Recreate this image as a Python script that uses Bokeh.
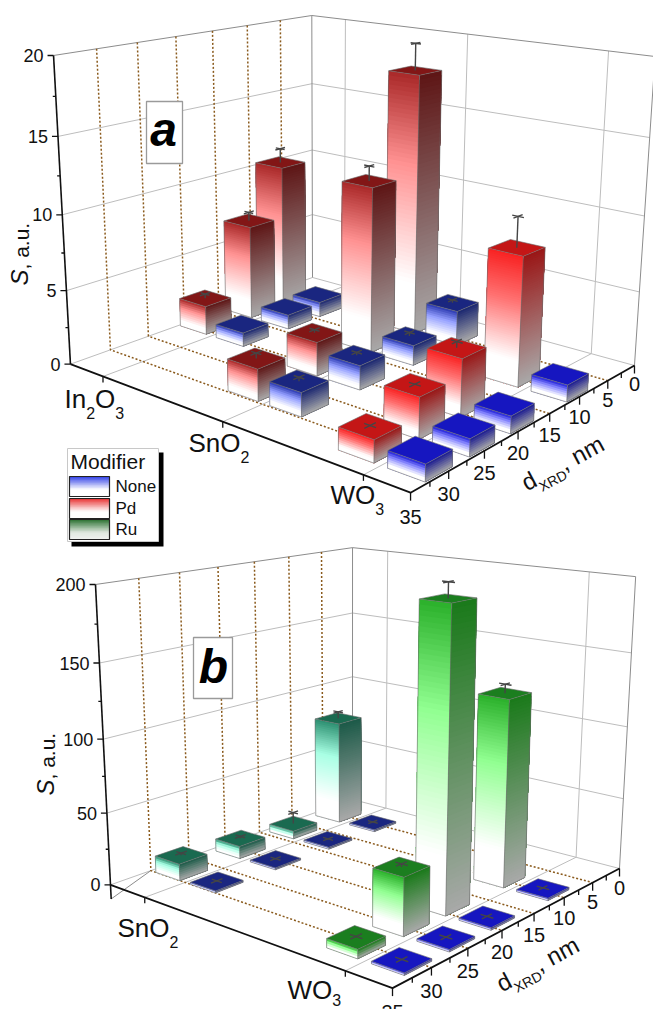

import math
import numpy as np
from bokeh.plotting import figure
from bokeh.embed import file_html
from bokeh.resources import INLINE
from bokeh.core.properties import value

# ---------- data ----------
a_in_d = [19.0, 12.4, 7.5]
a_in_pd = [2.0, 6.6, 10.2]
a_in_pd_err = [0.3, 0.6, 1.0]
a_in_none = [0.95, 1.0, 1.05]
a_in_none_err = [0, 0, 0]

a_sn_d = [28.0, 20.0, 12.0, 5.0]
a_sn_pd = [2.1, 2.25, 11.2, 17.8]
a_sn_pd_err = [0.35, 0.2, 1.0, 1.8]
a_sn_none = [1.55, 1.6, 1.35, 2.4]
a_sn_none_err = [0.25, 0.2, 0.25, 0.2]

a_w_d = [31.0, 25.0, 19.0, 10.0]
a_w_pd = [1.4, 2.6, 3.7, 8.5]
a_w_pd_err = [0.05, 0.05, 0.4, 2.0]
a_w_none = [1.05, 1.1, 1.1, 1.1]
a_w_none_err = [0, 0, 0, 0]

b_sn_d = [28.2, 20.2, 12.4, 5.2]
b_sn_ru = [11.7, 9.0, 5.9, 76.5]
b_sn_ru_err = [1.5, 1.3, 8.5, 5.0]
b_sn_none = [1.4, 1.4, 1.4, 1.4]
b_sn_none_err = [0.3, 0.3, 0.3, 0.3]

b_w_d = [30.8, 24.8, 18.8, 9.8]
b_w_ru = [6.0, 38.0, 196.7, 127.3]
b_w_ru_err = [0.5, 2.0, 10.0, 6.0]
b_w_none = [1.6, 1.6, 1.6, 1.6]
b_w_none_err = [0.3, 0.3, 0.3, 0.3]

a_materials = [("In", "2", "O", "3"), ("Sn", "", "O", "2"), ("W", "", "O", "3")]
s_ticks_a = [0, 5, 10, 15, 20]
s_ticks_b = [0, 50, 100, 150, 200]
d_ticks = [0, 5, 10, 15, 20, 25, 30, 35]
legend_names = ["None", "Pd", "Ru"]

# (left-face top, left-face middle, top face, right-face top)
PAL = {
    "pd_dark": ("#a92828", "#ff9292", "#821616", "#5e1515"),
    "pd_bright": ("#f82222", "#ff7070", "#c41616", "#9a1616"),
    "none_dark": ("#2a38b0", "#95a0ff", "#1a2680", "#1a2670"),
    "none_bright": ("#1f1fd8", "#8a8aff", "#1616c0", "#1a1a90"),
    "ru_teal": ("#2c8f70", "#a8ffe4", "#1a6a50", "#1c5a48"),
    "ru_green": ("#2ab02a", "#92ff92", "#1b7e1f", "#1a7a1a"),
}

FONT = value("Liberation Sans")
GRID = "#bdbdbd"
EDGE = "#8c8c8c"
DOT = "#8a5a1c"
K_BASE = 0.4


def fit(pts):
    rows = []
    for (m, d, s, u, v) in pts:
        X = [m, d, s, 1.0]
        rows.append([*X, 0, 0, 0, 0, *[-u * x for x in X]])
        rows.append([0, 0, 0, 0, *X, *[-v * x for x in X]])
    A = np.array(rows)
    _, _, vt = np.linalg.svd(A / np.abs(A).max(axis=1, keepdims=True))
    return vt[-1].reshape(3, 4)


def rgb(c):
    return np.array([int(c[i:i + 2], 16) for i in (1, 3, 5)], float)


def ramp(stops, t):
    for (t0, c0), (t1, c1) in zip(stops, stops[1:]):
        if t <= t1:
            f = (t - t0) / (t1 - t0) if t1 > t0 else 0
            v = rgb(c0) + (rgb(c1) - rgb(c0)) * f
            return "#%02x%02x%02x" % tuple(int(round(x)) for x in v)
    return stops[-1][1]


p = figure(width=653, height=1009, x_range=(0, 653), y_range=(1009, 0),
           output_backend="svg", toolbar_location=None, min_border=0)
p.axis.visible = False
p.grid.visible = False
p.outline_line_color = None


def seg(pts_list, color, width=1.0, dash="solid"):
    p.multi_line([[q[0] for q in s] for s in pts_list], [[q[1] for q in s] for s in pts_list],
                 line_color=color, line_width=width, line_dash=dash)


def txt(x, y, s, size, align="left", base="alphabetic", angle=0.0, style="normal", color="#111111"):
    if base == "alphabetic":
        x -= K_BASE * size * math.sin(angle)
        y -= K_BASE * size * math.cos(angle)
    p.text([x], [y], text=[s], text_font=FONT, text_font_size=f"{size}px", text_align=align,
           text_baseline=base, angle=angle, text_font_style=style, text_color=color)


def draw_frame(P, m0, m1, smax, s_ticks, m_ticks, s_low=None):
    def pr(m, d, s):
        h = P @ np.array([m, d, s, 1.0])
        return (h[0] / h[2], h[1] / h[2])

    lines = []
    for s in s_ticks[1:-1]:
        lines.append([pr(m0, 35, s), pr(m0, 0, s), pr(m1, 0, s)])
    for m in m_ticks:
        lines.append([pr(m, 35, 0), pr(m, 0, 0), pr(m, 0, smax)])
    lines.append([pr(m0, 35, 0), pr(m0, 0, 0), pr(m1, 0, 0)])
    seg(lines, GRID, 1.0)
    seg([[pr(m0, 35, smax), pr(m0, 0, smax), pr(m1, 0, smax), pr(m1, 0, 0)],
         [pr(m0, 0, 0), pr(m0, 0, smax)]], EDGE, 1.0)
    if s_low is not None:
        seg([[pr(m0, 35, s_low), pr(m0, 30, 0)]], EDGE, 1.0)
    dots = []
    for d in d_ticks[1:-1]:
        dots.append([pr(m0, d, smax), pr(m0, d, 0), pr(m1, d, 0)])
    seg(dots, DOT, 1.5, "2 2")
    return pr


def draw_axes(pr, m0, m1, smax, s_ticks, m_ticks, s_low=None):
    low = 0 if s_low is None else s_low
    seg([[pr(m0, 35, low), pr(m0, 35, smax)]], "#111111", 1.6)
    seg([[pr(m0, 35, 0), pr(m1, 35, 0), pr(m1, 0, 0)]], "#111111", 1.8)
    tk = []
    step = s_ticks[1]
    for s in s_ticks:
        x, y = pr(m0, 35, s)
        tk.append([(x - 6, y), (x, y)])
        if s < smax:
            x2, y2 = pr(m0, 35, s + step / 2)
            tk.append([(x2 - 3, y2), (x2, y2)])
        txt(x - 10, y, str(s), 18, "right", "middle")
    for m in m_ticks:
        x, y = pr(m, 35, 0)
        tk.append([(x, y), (x, y + 6)])
    for d in d_ticks:
        x, y = pr(m1, d, 0)
        tk.append([(x, y), (x, y + 8)])
        if d < 35:
            x2, y2 = pr(m1, d + 2.5, 0)
            tk.append([(x2, y2), (x2, y2 + 5)])
        txt(x, y + 19 + d * 5 / 35, str(d), 20, "center", "middle")
    seg(tk, "#111111", 1.3)


def draw_bars(pr, bars, w_m, w_d, cap_m, cap_d):
    for (m, d, s, err, key) in sorted(bars, key=lambda b: (b[1], b[0])):
        lt, mid, tf, rt = PAL[key]
        a0, a1 = m - w_m / 2, m + w_m / 2
        d0, d1 = d - w_d / 2, d + w_d / 2
        px = abs(pr(m, d, 0)[1] - pr(m, d, s)[1])
        n = max(3, min(60, int(px / 2)))
        left = [(0, "#ffffff"), (0.2, "#ffffff"), (0.66, mid), (1, lt)]
        right = [(0, "#a9a9a9"), (1, rt)]
        xs, ys, cs = [], [], []
        # each slice reaches from the floor up, tallest first, so no seams show
        for i in reversed(range(n)):
            s1 = s * (i + 1) / n
            t = (i + 0.5) / n
            q = [pr(a0, d1, 0), pr(a1, d1, 0), pr(a1, d1, s1), pr(a0, d1, s1)]
            xs.append([c[0] for c in q]); ys.append([c[1] for c in q]); cs.append(ramp(left, t))
            q = [pr(a1, d1, 0), pr(a1, d0, 0), pr(a1, d0, s1), pr(a1, d1, s1)]
            xs.append([c[0] for c in q]); ys.append([c[1] for c in q]); cs.append(ramp(right, t))
        q = [pr(a0, d1, s), pr(a1, d1, s), pr(a1, d0, s), pr(a0, d0, s)]
        xs.append([c[0] for c in q]); ys.append([c[1] for c in q]); cs.append(tf)
        p.patches(xs, ys, fill_color=cs, line_color=None)
        seg([[pr(a0, d1, s), pr(a0, d1, 0), pr(a1, d1, 0), pr(a1, d0, 0), pr(a1, d0, s)],
             [pr(a0, d1, s), pr(a1, d1, s), pr(a1, d0, s), pr(a0, d0, s), pr(a0, d1, s)],
             [pr(a1, d1, s), pr(a1, d1, 0)]], "#6a6a6a", 0.6)
        if err > 0:
            e = s + err
            seg([[pr(m, d, s), pr(m, d, e)],
                 [pr(m - cap_m, d, e), pr(m + cap_m, d, e)],
                 [pr(m, d - cap_d, e), pr(m, d + cap_d, e)]], "#454545", 1.4)


def rich(x, y, angle, parts):
    ca, sa = math.cos(angle), math.sin(angle)
    along = 0.0
    for t, size, drop, w, style in parts:
        txt(x + along * ca + drop * sa, y - along * sa + drop * ca, t, size, angle=angle, style=style)
        along += w * size


EM = {"In": 0.834, "Sn": 1.223, "W": 0.944, "O": 0.778, "2": 0.556, "3": 0.556}


def oxide(x, y, mat, drop=10):
    a, b, c, e = mat
    parts = [(a, 26, 0, EM[a], "normal")]
    if b:
        parts.append((b, 16, drop, EM[b], "normal"))
    parts.append((c, 26, 0, EM[c], "normal"))
    parts.append((e, 16, drop, EM[e], "normal"))
    rich(x, y, 0, parts)


def box(x0, y0, x1, y1, label, bx, by):
    p.quad(left=[x0], right=[x1], top=[y0], bottom=[y1], fill_color="white", line_color="#9a9a9a", line_width=1.3)
    txt(bx, by, label, 48, "center", style="bold italic", color="black")


def dxrd(x, y):
    ang = math.radians(28)
    rich(x, y, ang, [("d", 24, 0, 0.556, "normal"), ("XRD", 14, 7, 2.111, "normal"), (", nm", 24, 0, 1.945, "normal")])


def s_title(x, y):
    rich(x, y, math.pi / 2, [("S", 24, 0, 0.667, "italic"), (", a.u.", 21, 0, 2.2, "normal")])


# ---------- panel a ----------
M0A, M1A, SMA = 0.7, 3.3, 20
Pa = fit([(M0A, 35, 0, 70, 363), (M1A, 35, 0, 411, 492), (M1A, 0, 0, 634, 365), (M0A, 0, 0, 312, 277),
          (M0A, 35, SMA, 53, 55), (M0A, 0, SMA, 312, 15), (M1A, 0, SMA, 653, 56)])
pra = draw_frame(Pa, M0A, M1A, SMA, s_ticks_a, [1, 2, 3])
bars_a = []
OFF_A = 0.165
for cm, ds, pd_, pde, no, noe, kp, kn in [
    (1, a_in_d, a_in_pd, a_in_pd_err, a_in_none, a_in_none_err, "pd_dark", "none_dark"),
    (2, a_sn_d, a_sn_pd, a_sn_pd_err, a_sn_none, a_sn_none_err, "pd_dark", "none_dark"),
    (3, a_w_d, a_w_pd, a_w_pd_err, a_w_none, a_w_none_err, "pd_bright", "none_bright")]:
    for i, d in enumerate(ds):
        bars_a.append((cm - OFF_A, d, pd_[i], pde[i], kp))
        bars_a.append((cm + OFF_A, d, no[i], noe[i], kn))
draw_bars(pra, bars_a, 0.24, 3.6, 0.04, 0.75)
draw_axes(pra, M0A, M1A, SMA, s_ticks_a, [1, 2, 3])
oxide(64, 409, a_materials[0])
oxide(188, 453, a_materials[1])
oxide(330, 505, a_materials[2])
s_title(29, 285)
dxrd(527, 492)
box(146, 101, 182, 163, "a", 163, 148)

# ---------- panel b ----------
M0B, M1B, SMB = 0.8, 2.2, 200
Pb = fit([(M0B, 35, 0, 110, 884), (M1B, 35, 0, 392, 988), (M1B, 0, 0, 619, 868), (M0B, 0, 0, 352, 799),
          (M0B, 35, SMB, 95, 585), (M0B, 0, SMB, 352, 545), (M1B, 0, SMB, 635, 578)])
prb = draw_frame(Pb, M0B, M1B, SMB, s_ticks_b, [1, 2], s_low=-10)
bars_b = []
OFF_B = 0.1
for cm, ds, ru, rue, no, noe, kr, kn in [
    (1, b_sn_d, b_sn_ru, b_sn_ru_err, b_sn_none, b_sn_none_err, "ru_teal", "none_dark"),
    (2, b_w_d, b_w_ru, b_w_ru_err, b_w_none, b_w_none_err, "ru_green", "none_bright")]:
    for i, d in enumerate(ds):
        bars_b.append((cm - OFF_B, d, ru[i], rue[i], kr))
        bars_b.append((cm + OFF_B, d, no[i], noe[i], kn))
draw_bars(prb, bars_b, 0.14, 3.6, 0.028, 0.75)
draw_axes(prb, M0B, M1B, SMB, s_ticks_b, [1, 2], s_low=-10)
oxide(117, 938, a_materials[1])
oxide(287, 1000, a_materials[2], drop=6)
s_title(55, 795)
dxrd(502, 993)
box(193, 637, 232, 698, "b", 213, 685)

# ---------- legend ----------
p.quad(left=[71], right=[163], top=[452], bottom=[546], fill_color="black", line_color=None)
p.quad(left=[67], right=[158], top=[448], bottom=[541], fill_color="white", line_color="#c8c8c8", line_width=1)
txt(70, 469, "Modifier", 21)
sw_tops = [476, 498, 519]
sw_cols = ["#3040e8", "#e83030", "#2a7030"]
for name, y0, col in zip(legend_names, sw_tops, sw_cols):
    n = 12
    h = 20
    stops = [(0, col), (0.65, "#ffffff" if name != "Ru" else "#dfe8df"), (1, "#ffffff" if name != "Ru" else "#f0f2f0")]
    cs = [ramp(stops, (i + 0.5) / n) for i in range(n)]
    tops = [y0 + h * i / n for i in range(n)]
    p.quad(left=[69] * n, right=[109] * n, top=tops, bottom=[y0 + h] * n, fill_color=cs, line_color=None)
    p.quad(left=[69], right=[109], top=[y0], bottom=[y0 + h], fill_color=None, line_color="#222222", line_width=1.2)
    txt(115, y0 + 17, name, 17)

open("out.html", "w").write(file_html(p, INLINE))
